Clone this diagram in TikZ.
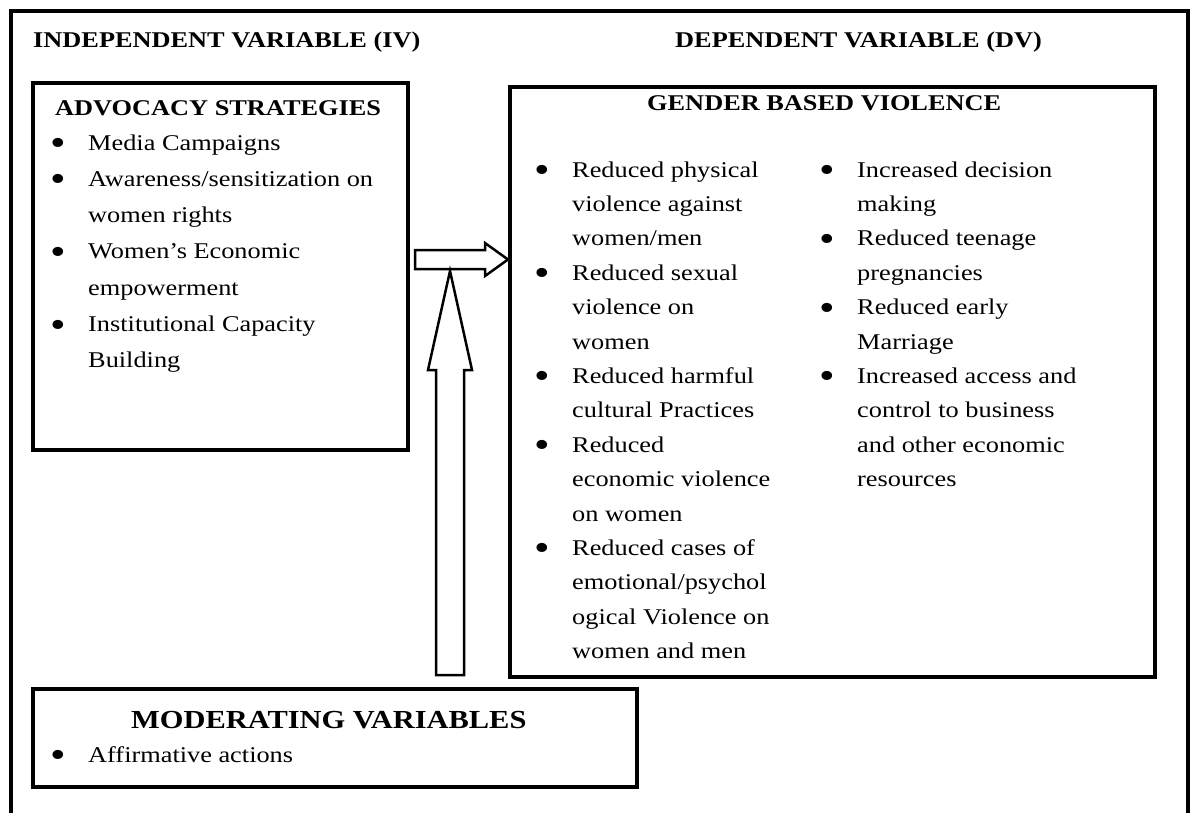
\documentclass[tikz,border=0pt]{standalone}
\usepackage{fontspec}
\setmainfont{Liberation Serif}[FakeStretch=1.17]
\newcommand{\bl}{\makebox[30pt][l]{\hspace{-8pt}\raisebox{-5.5pt}{\fontsize{38}{38}\selectfont •}}}
\newcommand{\ind}{\hspace{30pt}}
\begin{document}
\begin{tikzpicture}[x=1pt,y=-1pt,
  frm/.style={line width=3.5pt},
  box/.style={draw,line width=3.5pt,inner sep=0pt,anchor=north west},
  blk/.style={draw,line width=2.5pt,fill=white,line join=miter},
  hdr/.style={anchor=base west,inner sep=0pt,font=\fontsize{22.5}{27}\selectfont\bfseries},
  lst/.style={anchor=base west,inner sep=0pt}]
\useasboundingbox (0,0) rectangle (1191,812);
% outer frame (open at the bottom)
\draw[frm] (11,830) -- (11,11) -- (1188,11) -- (1188,830);
% boxes
\node[box,minimum width=375pt,minimum height=367pt] (adv) at (31,81) {};
\node[box,minimum width=645pt,minimum height=590pt] (gbv) at (508,85) {};
\node[box,minimum width=604pt,minimum height=98pt] (mod) at (31,687) {};
% headers
\node[hdr] (iv) at (33,47) {INDEPENDENT VARIABLE (IV)};
\node[hdr] (dv) at (675,47) {DEPENDENT VARIABLE (DV)};
\node[hdr] (advt) at (55,115) {ADVOCACY STRATEGIES};
\node[hdr] (gbvt) at (647,110) {GENDER BASED VIOLENCE};
% lists
\node[lst] (advl) at (58,150) {\fontsize{22.5}{36.3}\selectfont
  \begin{tabular}[t]{@{}l@{}}
  \bl Media Campaigns\\
  \bl Awareness/sensitization on\\
  \ind women rights\\
  \bl Women’s Economic\\
  \ind empowerment\\
  \bl Institutional Capacity\\
  \ind Building
  \end{tabular}};
\node[lst] (gl1) at (542,177) {\fontsize{22.5}{34.4}\selectfont
  \begin{tabular}[t]{@{}l@{}}
  \bl Reduced physical\\
  \ind violence against\\
  \ind women/men\\
  \bl Reduced sexual\\
  \ind violence on\\
  \ind women\\
  \bl Reduced harmful\\
  \ind cultural Practices\\
  \bl Reduced\\
  \ind economic violence\\
  \ind on women\\
  \bl Reduced cases of\\
  \ind emotional/psychol\\
  \ind ogical Violence on\\
  \ind women and men
  \end{tabular}};
\node[lst] (gl2) at (827,177) {\fontsize{22.5}{34.4}\selectfont
  \begin{tabular}[t]{@{}l@{}}
  \bl Increased decision\\
  \ind making\\
  \bl Reduced teenage\\
  \ind pregnancies\\
  \bl Reduced early\\
  \ind Marriage\\
  \bl Increased access and\\
  \ind control to business\\
  \ind and other economic\\
  \ind resources
  \end{tabular}};
\node[anchor=base west,inner sep=0pt,font=\fontsize{26}{30}\selectfont\bfseries] (modt) at (131,728) {MODERATING VARIABLES};
\node[lst] (modl) at (58,762) {\fontsize{22.5}{34.4}\selectfont\bl Affirmative actions};
% block arrows
\coordinate (rt) at (gbv.west |- 0,259.5);
\draw[blk] (415,250) -- (485,250) -- (485,243) -- (rt) -- (485,276) -- (485,269) -- (415,269) -- cycle;
\coordinate (ut) at (450,271);
\draw[blk] (436,675) -- (436,370) -- (428,370) -- (ut) -- (472,370) -- (464,370) -- (464,675) -- cycle;
\end{tikzpicture}
\end{document}
